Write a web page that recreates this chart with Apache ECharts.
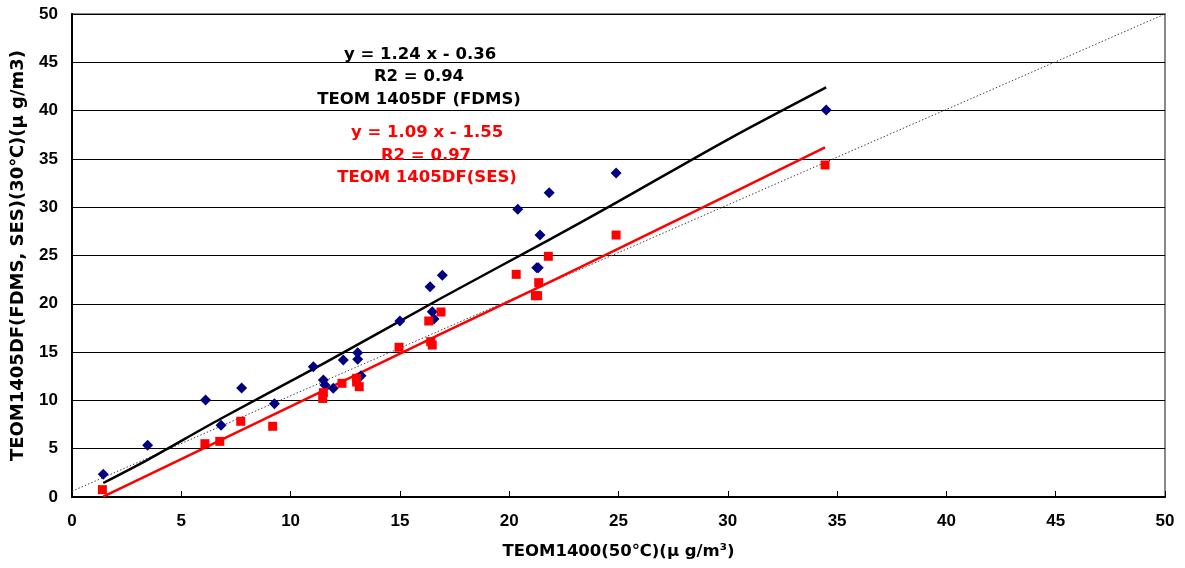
<!DOCTYPE html>
<html><head><meta charset="utf-8">
<script src="https://cdn.jsdelivr.net/npm/echarts@6/dist/echarts.min.js"></script>
<style>html,body{margin:0;padding:0;background:#fff}#c{width:1185px;height:568px}</style>
</head><body><div id="c"></div>
<script>
// FDMS (blue diamonds)
const fdmsX = [1.43, 3.46, 6.11, 6.82, 7.76, 9.26, 11.04, 11.50, 11.57, 11.95, 12.41, 13.07, 13.07, 13.22, 15.00, 16.38, 16.48, 16.56, 16.94, 20.39, 21.26, 21.33, 21.41, 21.83, 24.89, 34.50];
const fdmsY = [2.35, 5.35, 10.04, 7.42, 11.28, 9.66, 13.49, 12.10, 11.60, 11.25, 14.18, 14.94, 14.25, 12.56, 18.22, 21.77, 19.18, 18.43, 22.95, 29.78, 23.74, 23.74, 27.12, 31.50, 33.54, 40.06];
// SES (red squares)
const sesX = [1.39, 6.08, 6.76, 7.72, 9.18, 11.47, 11.50, 12.35, 13.02, 13.02, 13.14, 14.96, 16.32, 16.41, 16.48, 16.88, 20.32, 21.20, 21.30, 21.35, 21.79, 24.89, 34.45];
const sesY = [0.76, 5.52, 5.76, 7.84, 7.32, 10.20, 10.80, 11.77, 12.29, 11.90, 11.42, 15.50, 18.22, 16.08, 15.73, 19.15, 23.05, 20.84, 20.84, 22.19, 24.92, 27.12, 34.37];
// regression lines
const fdmsFitX = [1.43, 3.5, 6.8, 11.5, 16.9, 21.8, 25.0, 30.0, 34.5];
const fdmsFitY = [1.45, 3.9, 8.1, 13.8, 20.6, 26.6, 30.6, 37.0, 42.4];
const sesFitX = [1.43, 6.8, 11.5, 16.9, 21.8, 25.0, 34.45];
const sesFitY = [0.03, 5.9, 11.0, 16.9, 22.2, 25.7, 36.2];
// 1:1 reference line
const refX = [0, 50];
const refY = [0.6, 50];
const xTicks = [0, 50, 5];
const yTicks = [0, 50, 5];

const pairs = (xs, ys) => xs.map((x, i) => [x, ys[i]]);
const fontWide = '"DejaVu Sans", "Noto Sans CJK JP", sans-serif';
const fontTick = '"Liberation Sans Narrow", "Liberation Sans", sans-serif';

const chart = echarts.init(document.getElementById('c'), null, {renderer: 'canvas'});
chart.setOption({
  animation: false,
  backgroundColor: '#fff',
  grid: {left: 72, right: 20, top: 14, bottom: 71, show: true, borderColor: '#888', borderWidth: 2, backgroundColor: 'transparent'},
  xAxis: {
    type: 'value', min: xTicks[0], max: xTicks[1], interval: xTicks[2],
    name: 'TEOM1400(50℃)(μ g/m³)', nameLocation: 'middle', nameGap: 46,
    nameTextStyle: {fontFamily: fontWide, fontWeight: 'bold', fontSize: 16.5, color: '#000'},
    axisLine: {show: true, lineStyle: {color: '#000', width: 2}},
    axisTick: {show: true, inside: true, length: 6, lineStyle: {color: '#000', width: 1}},
    axisLabel: {fontFamily: fontTick, fontWeight: 'bold', fontSize: 17, color: '#000', margin: 16},
    splitLine: {show: false}
  },
  yAxis: {
    type: 'value', min: yTicks[0], max: yTicks[1], interval: yTicks[2],
    name: 'TEOM1405DF(FDMS, SES)(30℃)(μ g/m3)', nameLocation: 'middle', nameGap: 45,
    nameTextStyle: {fontFamily: fontWide, fontWeight: 'bold', fontSize: 18, color: '#000'},
    axisLine: {show: true, lineStyle: {color: '#000', width: 2}},
    axisTick: {show: false},
    axisLabel: {fontFamily: fontTick, fontWeight: 'bold', fontSize: 17, color: '#000', margin: 14},
    splitLine: {show: true, lineStyle: {color: '#000', width: 1.2}}
  },
  series: [
    {type: 'line', data: pairs(refX, refY), showSymbol: false, lineStyle: {color: '#444', width: 1, type: [1.5, 2]}, silent: true, z: 1},
    {type: 'line', data: pairs(fdmsFitX, fdmsFitY), showSymbol: false, smooth: 0.3, lineStyle: {color: '#000', width: 2.5}, z: 2},
    {type: 'line', data: pairs(sesFitX, sesFitY), showSymbol: false, smooth: 0.3, lineStyle: {color: '#ff0000', width: 2.5}, z: 2},
    {type: 'scatter', data: pairs(fdmsX, fdmsY), symbol: 'diamond', symbolSize: 11, itemStyle: {color: '#000080', opacity: 1}, z: 3},
    {type: 'scatter', data: pairs(sesX, sesY), symbol: 'rect', symbolSize: 9, itemStyle: {color: '#ff0000', opacity: 1}, z: 3}
  ],
  graphic: [
    {type: 'text', x: 420, y: 55, style: {text: 'y = 1.24 x - 0.36', fill: '#000', font: 'bold 16.5px ' + fontWide, textAlign: 'center', textVerticalAlign: 'middle'}, z: 10},
    {type: 'text', x: 419, y: 77, style: {text: 'R2 = 0.94', fill: '#000', font: 'bold 16.5px ' + fontWide, textAlign: 'center', textVerticalAlign: 'middle'}, z: 10},
    {type: 'text', x: 419, y: 100, style: {text: 'TEOM 1405DF (FDMS)', fill: '#000', font: 'bold 16.5px ' + fontWide, textAlign: 'center', textVerticalAlign: 'middle'}, z: 10},
    {type: 'text', x: 427, y: 133, style: {text: 'y = 1.09 x - 1.55', fill: '#ff0000', font: 'bold 16.5px ' + fontWide, textAlign: 'center', textVerticalAlign: 'middle'}, z: 10},
    {type: 'text', x: 426, y: 156, style: {text: 'R2 = 0.97', fill: '#ff0000', font: 'bold 16.5px ' + fontWide, textAlign: 'center', textVerticalAlign: 'middle'}, z: 10},
    {type: 'text', x: 427, y: 178, style: {text: 'TEOM 1405DF(SES)', fill: '#ff0000', font: 'bold 16.5px ' + fontWide, textAlign: 'center', textVerticalAlign: 'middle'}, z: 10}
  ]
});
</script></body></html>
